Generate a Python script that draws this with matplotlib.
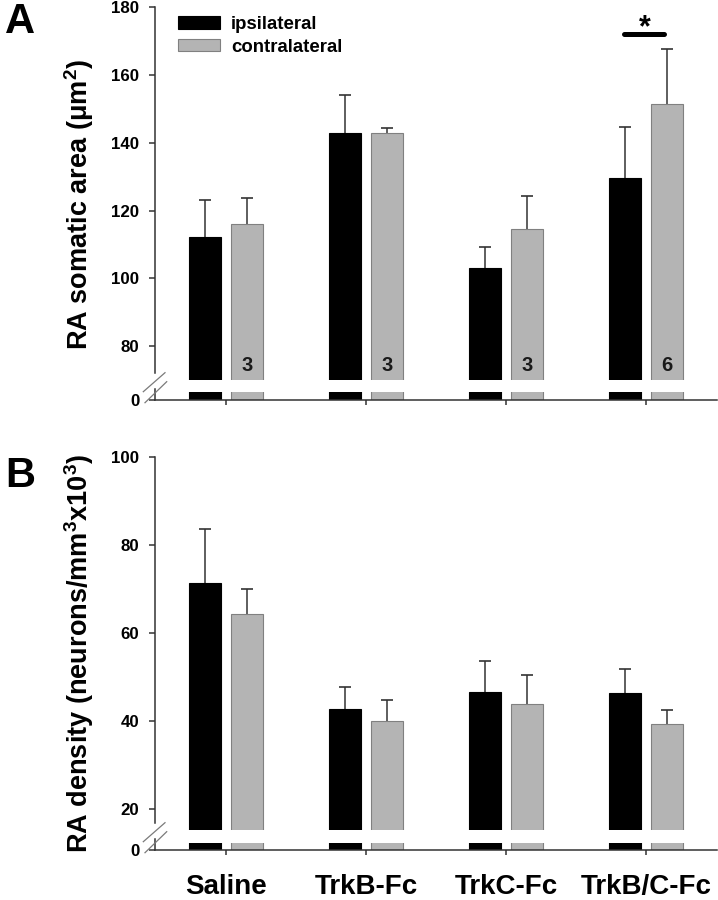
import numpy as np
import matplotlib
matplotlib.use('Agg')
import matplotlib.pyplot as plt
from matplotlib.lines import Line2D
from matplotlib.patches import Patch

# ---------------- data ----------------
categories = ['Saline', 'TrkB-Fc', 'TrkC-Fc', 'TrkB/C-Fc']
series_names = ['ipsilateral', 'contralateral']

area_ipsi = [112.2, 143.0, 103.2, 129.7]
area_ipsi_err = [10.9, 11.0, 6.2, 15.0]
area_contra = [116.0, 143.0, 114.7, 151.4]
area_contra_err = [7.7, 1.4, 9.6, 16.3]
area_n = ['3', '3', '3', '6']
area_ticks = [80, 100, 120, 140, 160, 180]

dens_ipsi = [71.4, 42.9, 46.7, 46.4]
dens_ipsi_err = [12.2, 4.9, 7.1, 5.5]
dens_contra = [64.5, 40.0, 43.9, 39.4]
dens_contra_err = [5.6, 4.8, 6.6, 3.2]
dens_ticks = [20, 40, 60, 80, 100]

sig_group = 3
sig_level = 172

# ---------------- style ----------------
plt.rcParams['font.family'] = ['Liberation Sans', 'DejaVu Sans']
plt.rcParams['font.weight'] = 'bold'
plt.rcParams['mathtext.fontset'] = 'custom'
plt.rcParams['mathtext.rm'] = 'Liberation Sans:bold'
plt.rcParams['mathtext.it'] = 'Liberation Sans:bold'
plt.rcParams['mathtext.bf'] = 'Liberation Sans:bold'
plt.rcParams['mathtext.default'] = 'rm'

BLACK = '#000000'
GRAY = '#b4b4b4'
GRAY_EDGE = '#808080'
AXC = '#333333'

W, H = 718, 900
fig = plt.figure(figsize=(W / 100, H / 100), dpi=100)


def ax_px(l, t, r, b):
    return fig.add_axes([l / W, 1 - b / H, (r - l) / W, (b - t) / H])


x = np.arange(len(categories))
off = 0.15
bw = 0.232


def upper_err(ax, xs, means, errs):
    tops = np.asarray(means) + np.asarray(errs)
    ax.vlines(xs, means, tops, colors=AXC, linewidth=1.1, zorder=1)
    ax.plot(xs, tops, linestyle='none', marker='_', markersize=8.6,
            markeredgewidth=1.2, color=AXC, zorder=1)


def panel(top_px, split_px, stub_px, axis_px, ylo, yhi, ticks, ipsi, ipsi_err,
          contra, contra_err, show_cats):
    left, right = 155, 717
    ax_t = ax_px(left, top_px, right, split_px)
    ax_b = ax_px(left, stub_px, right, axis_px)
    ppu = (split_px - top_px) / (yhi - ylo)
    ax_t.set_ylim(ylo, yhi)
    ax_b.set_ylim(0, (axis_px - stub_px) / ppu)
    for ax in (ax_t, ax_b):
        ax.set_xlim(-0.507, 3.507)
        ax.bar(x - off, ipsi, bw, color=BLACK, edgecolor=BLACK, linewidth=0.8, zorder=2)
        ax.bar(x + off, contra, bw, color=GRAY, edgecolor=GRAY_EDGE, linewidth=0.8, zorder=2)
        ax.spines['top'].set_visible(False)
        ax.spines['right'].set_visible(False)
        ax.spines['left'].set_color(AXC)
        ax.spines['bottom'].set_color(AXC)
        ax.spines['left'].set_linewidth(1.1)
        ax.spines['bottom'].set_linewidth(1.1)
        ax.tick_params(axis='y', direction='out', length=4.3, width=1.1, color=AXC,
                       pad=7, labelsize=12.2)
        ax.patch.set_visible(False)
    upper_err(ax_t, x - off, ipsi, ipsi_err)
    upper_err(ax_t, x + off, contra, contra_err)
    ax_t.spines['bottom'].set_visible(False)
    ax_t.set_xticks([])
    ax_t.set_yticks(ticks)
    ax_t.spines['left'].set_bounds(ylo + 7 / ppu, yhi)
    ax_b.set_yticks([0])
    ax_b.spines['left'].set_bounds(0, 11 / ppu)
    ax_b.set_xticks(x)
    ax_b.tick_params(axis='x', direction='out', length=3.6, width=1.1, color=AXC)
    if show_cats:
        ax_b.set_xticklabels(categories, fontsize=20)
        ax_b.tick_params(axis='x', pad=14)
    else:
        ax_b.set_xticklabels([])
    # break marks
    sx = left
    for (x0, y0, x1, y1) in [(sx - 11.7, split_px + 11.7, sx + 10, split_px - 7.3),
                             (sx - 10, split_px + 22.7, sx + 11.7, split_px + 1.7)]:
        fig.add_artist(Line2D([x0 / W, x1 / W], [1 - y0 / H, 1 - y1 / H],
                              transform=fig.transFigure, color='#7a7a7a', lw=0.9))
    return ax_t, ax_b


# Panel A
axA, axA_b = panel(7.3, 380, 391.7, 400, 70, 180, area_ticks,
                   area_ipsi, area_ipsi_err, area_contra, area_contra_err, False)
for xi, n in zip(x, area_n):
    axA.text(xi + off, 74.4, n, ha='center', va='center', fontsize=14.5,
             color='#1a1a1a', zorder=4)
axA.plot([sig_group - off - 0.005, sig_group + off - 0.02], [sig_level, sig_level],
         color=BLACK, lw=3.6, solid_capstyle='round', zorder=4, clip_on=False)
axA.text(sig_group - 0.01, sig_level - 0.5, '*', ha='center', va='baseline',
         fontsize=22, zorder=4, clip_on=False)

handles = [Patch(facecolor=BLACK, edgecolor=BLACK, linewidth=0.8),
           Patch(facecolor=GRAY, edgecolor=GRAY_EDGE, linewidth=0.8)]
axA.legend(handles, series_names, loc='upper left',
           bbox_to_anchor=(178 / W, 1 - 16 / H), bbox_transform=fig.transFigure,
           frameon=False, prop={'size': 13.4, 'weight': 'bold'},
           handlelength=2.26, handleheight=0.63, handletextpad=0.6,
           labelspacing=0.32, borderpad=0, borderaxespad=0)

# Panel B
axB, axB_b = panel(457.3, 830, 842.7, 850, 15.3, 100, dens_ticks,
                   dens_ipsi, dens_ipsi_err, dens_contra, dens_contra_err, True)

# labels
fig.text(79 / W, 1 - 204 / H, 'RA somatic area (μm$^2$)', rotation=90,
         ha='center', va='center', fontsize=19.5)
fig.text(79 / W, 1 - 653 / H, 'RA density (neurons/mm$^3$x10$^3$)', rotation=90,
         ha='center', va='center', fontsize=19.5)
fig.text(5 / W, 1 - 2 / H, 'A', ha='left', va='top', fontsize=30)
fig.text(5 / W, 1 - 456 / H, 'B', ha='left', va='top', fontsize=30)

fig.savefig('out.png', dpi=100)
